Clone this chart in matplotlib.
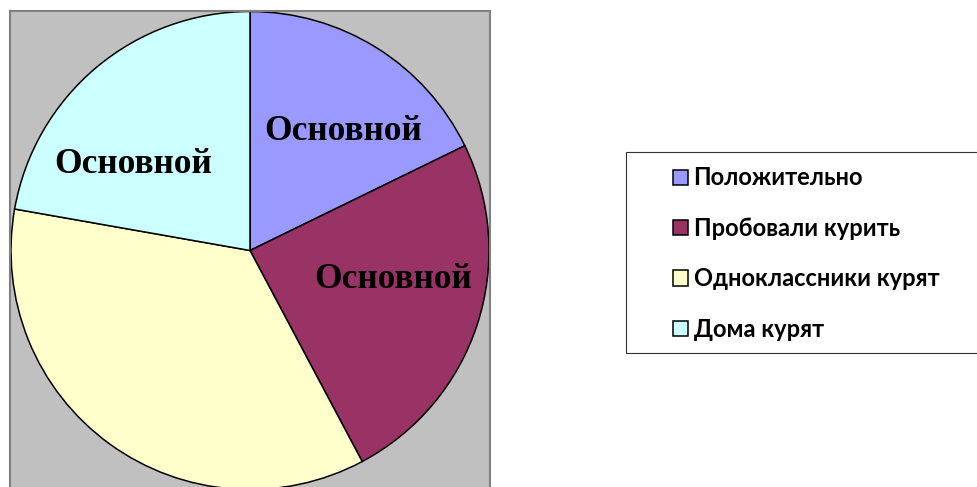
import matplotlib.pyplot as plt
from matplotlib.patches import Rectangle

# slice values (clockwise from 12 o'clock)
categories = ['Положительно', 'Пробовали курить', 'Одноклассники курят', 'Дома курят']
values = [8, 11, 16, 10]
slice_labels = ['Основной', 'Основной', '', 'Основной']
colors = ['#9999FF', '#993366', '#FFFFCC', '#CCFFFF']

# where the slice labels sit (data units, pie radius = 1)
label_xy = [(0.39, 0.50), (0.60, -0.12), None, (-0.49, 0.36)]

W, H = 978, 487
fig = plt.figure(figsize=(W / 100, H / 100), dpi=100)

# plot area: gray box, pie radius 239 px, centre at (250, 250.5) px
R = 239.0
left, top, right = 10, 11, 490
ax = fig.add_axes([left / W, 0, (right - left) / W, (H - top) / H])
wedges, _ = ax.pie(values, colors=colors, startangle=90, counterclock=False,
                   wedgeprops=dict(edgecolor='black', linewidth=1.1))
ax.set_aspect('auto')
cx, cy = 250.0, 250.5
ax.set_xlim(-(cx - left) / R, (right - cx) / R)
ax.set_ylim(-(H - cy) / R, (cy - top) / R)
ax.set_frame_on(True)
ax.set_facecolor('#C0C0C0')
for side in ['left', 'top', 'right']:
    ax.spines[side].set_color('#808080')
    ax.spines[side].set_linewidth(1.5)
ax.spines['bottom'].set_visible(False)
ax.set_xticks([])
ax.set_yticks([])

for txt, xy in zip(slice_labels, label_xy):
    if xy is None or not txt:
        continue
    ax.text(xy[0], xy[1], txt, ha='center', va='center',
            fontsize=25.5, fontweight='bold', family='Liberation Serif', color='black')

# legend box (runs off the right edge, as in the original)
fig.patches.append(Rectangle((626 / W, 1 - 353 / H), 400 / W, (353 - 152) / H,
                             transform=fig.transFigure, fill=False,
                             edgecolor='#333333', linewidth=0.8))

leg = fig.legend(wedges, categories, loc='upper left',
                 bbox_to_anchor=(673 / W, 1 - 166.5 / H),
                 frameon=False, borderpad=0, borderaxespad=0,
                 handlelength=0.62, handleheight=0.62, handletextpad=0.25,
                 labelspacing=1.16,
                 prop=dict(family='Lato', weight='bold', size=17))

fig.savefig('out.png', dpi=100)
